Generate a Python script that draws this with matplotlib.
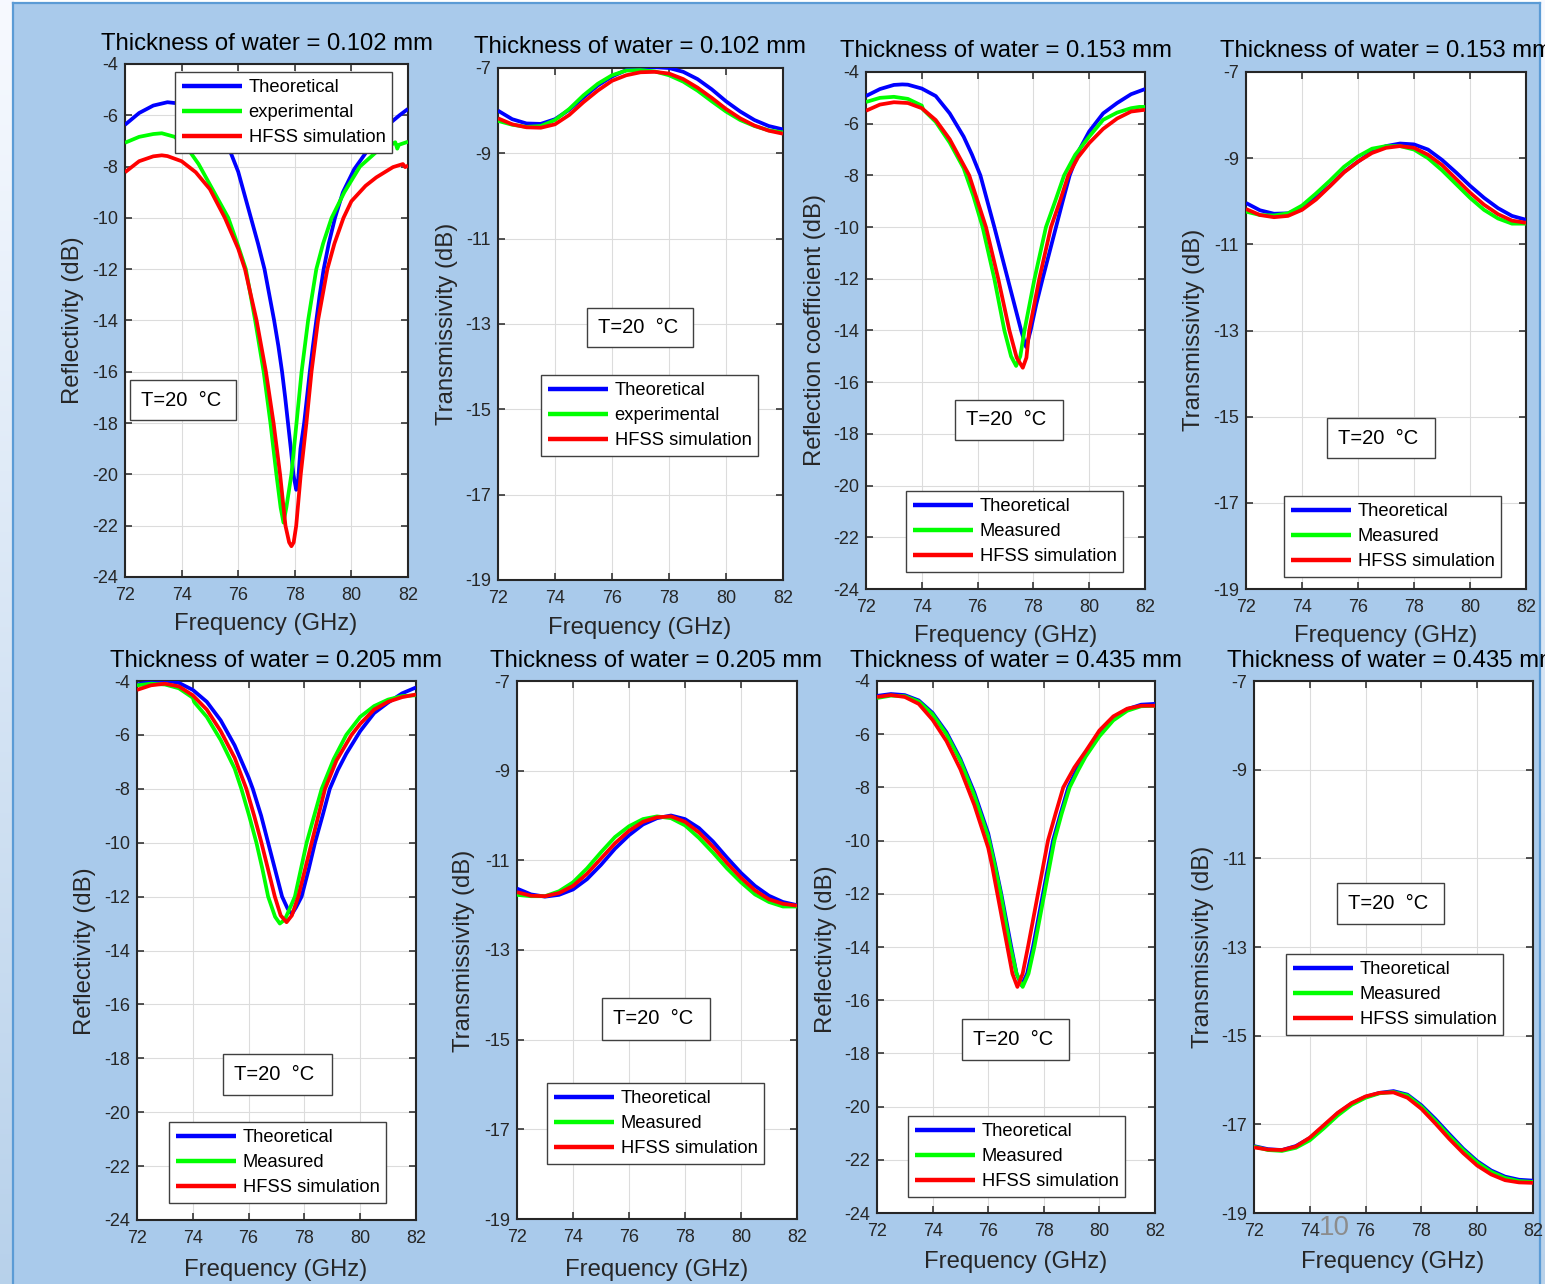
import matplotlib
matplotlib.use('Agg')
import matplotlib.pyplot as plt
from matplotlib.patches import Rectangle
import numpy as np

W, H = 1545, 1284
plt.rcParams['font.family'] = ['Liberation Sans', 'DejaVu Sans']
plt.rcParams['axes.unicode_minus'] = False

# ---------------- data ----------------
LABELS_EXP = ['Theoretical', 'experimental', 'HFSS simulation']
LABELS_MEAS = ['Theoretical', 'Measured', 'HFSS simulation']
TITLES = ['Thickness of water = 0.102 mm', 'Thickness of water = 0.102 mm',
          'Thickness of water = 0.153 mm', 'Thickness of water = 0.153 mm',
          'Thickness of water = 0.205 mm', 'Thickness of water = 0.205 mm',
          'Thickness of water = 0.435 mm', 'Thickness of water = 0.435 mm']
YLABELS = ['Reflectivity (dB)', 'Transmissivity (dB)',
           'Reflection coefficient (dB)', 'Transmissivity (dB)',
           'Reflectivity (dB)', 'Transmissivity (dB)',
           'Reflectivity (dB)', 'Transmissivity (dB)']
XTICKS = [72, 74, 76, 78, 80, 82]
YTICKS_R = [-4, -6, -8, -10, -12, -14, -16, -18, -20, -22, -24]
YTICKS_T = [-7, -9, -11, -13, -15, -17, -19]

# reflection, 0.102 mm
r102_theo_f = [72, 72.5, 73, 73.5, 74, 74.5, 75, 75.5, 75.75, 76.0, 76.2, 76.45, 76.7, 76.93, 77.1, 77.27, 77.42,
               77.55, 77.66, 77.76, 77.86, 77.95, 78.05, 78.1, 78.2, 78.33, 78.43, 78.53, 78.64, 78.76, 78.88,
               79.02, 79.2, 79.42, 79.7, 80.1, 80.55, 81.0, 81.34, 81.7, 82]
r102_theo_db = [-6.37, -5.91, -5.62, -5.49, -5.55, -5.8, -6.3, -7.0, -7.5, -8.2, -9.0, -10.0, -11.0, -12, -13, -14,
                -15, -16, -17, -18, -19, -20, -20.6, -20.5, -19, -18, -17, -16, -15, -14, -13,
                -12, -11, -10, -9.0, -8.1, -7.4, -6.8, -6.33, -6.0, -5.75]
r102_meas_f = [72, 72.5, 73, 73.3, 73.76, 74.3, 74.6, 75.0, 75.3, 75.65, 75.97, 76.27, 76.6, 76.9, 77.14, 77.35,
               77.5, 77.6, 77.7, 77.88, 78.06, 78.24, 78.47, 78.76, 79.0, 79.3, 79.75, 80.3, 80.9, 81.34, 81.55,
               81.62, 81.68, 82]
r102_meas_db = [-7.07, -6.84, -6.73, -6.7, -6.84, -7.43, -7.9, -8.7, -9.3, -10, -11, -12, -14, -16, -18, -20,
                -21.3, -21.88, -21.3, -20, -18, -16, -14, -12, -11, -10, -9.0, -8, -7.41, -7.2, -7.05,
                -7.3, -7.15, -7.03]
r102_hfss_f = [72, 72.5, 73, 73.3, 73.5, 74, 74.5, 75, 75.53, 76.0, 76.24, 76.65, 76.98, 77.25, 77.48, 77.67, 77.8,
               77.88, 77.96, 78.05, 78.21, 78.41, 78.59, 78.82, 79.15, 79.4, 79.72, 80.0, 80.5, 80.88, 81.47,
               81.82, 81.9, 82]
r102_hfss_db = [-8.22, -7.79, -7.6, -7.56, -7.59, -7.79, -8.22, -8.88, -10, -11.2, -12, -14, -16, -18, -20, -22,
                -22.65, -22.8, -22.65, -22, -20, -18, -16, -14, -12, -11, -10, -9.35, -8.75, -8.42, -8.02,
                -7.9, -8.02, -7.96]

# reflection, 0.153 mm
r153_theo_f = [72, 72.5, 73, 73.3, 73.5, 74, 74.5, 75, 75.5, 75.8, 76.1, 76.35, 76.6, 76.84, 77.08, 77.32, 77.56,
               77.74, 77.9, 78.1, 78.33, 78.57, 78.81, 79.05, 79.3, 79.65, 80.0, 80.5, 81, 81.5, 82]
r153_theo_db = [-4.93, -4.66, -4.5, -4.48, -4.49, -4.64, -4.93, -5.6, -6.5, -7.2, -8.0, -9.0, -10, -11, -12, -13,
                -14, -14.64, -14, -13, -12, -11, -10, -9, -8, -7, -6.3, -5.6, -5.2, -4.86, -4.66]
r153_meas_f = [72, 72.5, 73, 73.5, 74, 74.05, 74.5, 75, 75.5, 75.85, 76.18, 76.6, 76.96, 77.2, 77.38, 77.53, 77.68,
               78.04, 78.45, 78.78, 79.1, 79.5, 80.0, 80.5, 81, 81.5, 81.8, 82]
r153_meas_db = [-5.16, -5.0, -4.96, -5.04, -5.3, -5.45, -5.93, -6.73, -7.72, -8.8, -10, -12, -14, -15.0, -15.37,
                -15.0, -14, -12, -10, -9, -8, -7.2, -6.5, -5.85, -5.57, -5.4, -5.35, -5.35]
r153_hfss_f = [72, 72.5, 73, 73.5, 74, 74.5, 75, 75.5, 75.7, 76.0, 76.3, 76.74, 77.14, 77.4, 77.62, 77.75, 77.85,
               78.21, 78.63, 78.95, 79.25, 79.6, 80.0, 80.5, 81, 81.5, 82]
r153_hfss_db = [-5.5, -5.26, -5.17, -5.2, -5.4, -5.86, -6.6, -7.6, -8, -9.0, -10, -12, -14, -15.05, -15.44, -15.05,
                -14, -12, -10, -9, -8, -7.3, -6.75, -6.2, -5.8, -5.53, -5.46]

# reflection, 0.205 mm
r205_theo_f = [72, 72.5, 73, 73.5, 74, 74.5, 75, 75.5, 76, 76.15, 76.45, 76.7, 76.95, 77.2, 77.4, 77.55, 77.7, 77.9,
               78.15, 78.38, 78.65, 78.91, 79.2, 79.5, 80, 80.5, 81, 81.5, 82]
r205_theo_db = [-4.13, -4.03, -3.98, -4.07, -4.33, -4.77, -5.46, -6.39, -7.58, -8, -9, -10, -11, -12, -12.45,
                -12.65, -12.4, -12, -11, -10, -9, -8, -7.3, -6.7, -5.86, -5.19, -4.8, -4.46, -4.24]
r205_meas_f = [72, 72.5, 73, 73.5, 74, 74.05, 74.5, 75, 75.5, 75.74, 76.02, 76.28, 76.5, 76.7, 76.95, 77.12, 77.3,
               77.45, 77.66, 77.87, 78.08, 78.35, 78.62, 79.05, 79.5, 80, 80.5, 81, 81.5, 82]
r205_meas_db = [-4.16, -4.1, -4.13, -4.27, -4.62, -4.78, -5.33, -6.19, -7.25, -8, -9, -10, -11, -12, -12.75, -13.0,
                -12.85, -12.5, -12, -11, -10, -9, -8, -6.9, -6, -5.33, -4.93, -4.69, -4.56, -4.53]
r205_hfss_f = [72, 72.5, 73, 73.5, 74, 74.5, 75, 75.5, 75.92, 76.2, 76.46, 76.7, 76.94, 77.15, 77.36, 77.55, 77.78,
               78.02, 78.26, 78.5, 78.74, 79.15, 79.69, 80, 80.5, 81, 81.5, 82]
r205_hfss_db = [-4.33, -4.16, -4.1, -4.2, -4.53, -5.06, -5.86, -6.85, -8, -9, -10, -11, -12, -12.7, -12.95, -12.7,
                -12, -11, -10, -9, -8, -6.95, -6, -5.59, -5.06, -4.77, -4.6, -4.5]

# reflection, 0.435 mm
r435_theo_f = [72, 72.5, 73, 73.5, 74, 74.5, 75, 75.5, 76, 76.25, 76.47, 76.65, 76.83, 77.02, 77.2, 77.4, 77.61,
               77.79, 77.97, 78.15, 78.33, 78.6, 78.88, 79.2, 79.5, 80, 80.5, 81, 81.5, 82]
r435_theo_db = [-4.56, -4.49, -4.53, -4.73, -5.2, -5.93, -6.93, -8.19, -9.73, -10.9, -12, -13, -14, -15, -15.44, -15,
                -14, -13, -12, -11, -10, -9, -8, -7.3, -6.75, -6.0, -5.4, -5.06, -4.89, -4.86]
r435_meas_f = [72, 72.5, 73, 73.5, 74, 74.5, 75, 75.5, 76, 76.24, 76.45, 76.62, 76.8, 77.02, 77.24, 77.45, 77.66,
               77.84, 78.02, 78.2, 78.38, 78.64, 78.93, 79.24, 79.5, 80, 80.5, 81, 81.5, 82]
r435_meas_db = [-4.64, -4.55, -4.57, -4.77, -5.25, -6.0, -7.0, -8.3, -9.85, -10.95, -12, -13, -14, -15, -15.5, -15,
                -14, -13, -12, -11, -10, -9, -8, -7.35, -6.85, -6.08, -5.48, -5.12, -4.95, -4.93]
r435_hfss_f = [72, 72.5, 73, 73.5, 74, 74.5, 75, 75.5, 76, 76.15, 76.33, 76.51, 76.69, 76.87, 77.05, 77.24, 77.43,
               77.61, 77.79, 77.97, 78.15, 78.42, 78.7, 79.1, 79.5, 80, 80.5, 81, 81.5, 82]
r435_hfss_db = [-4.6, -4.53, -4.6, -4.86, -5.46, -6.26, -7.32, -8.66, -10.27, -11.0, -12, -13, -14, -15, -15.5, -15,
                -14, -13, -12, -11, -10, -9, -8, -7.25, -6.65, -5.86, -5.33, -5.04, -4.93, -4.93]

# transmission (shared frequency grid)
t_freq = [72.0, 72.5, 73.0, 73.5, 74.0, 74.5, 75.0, 75.5, 76.0, 76.5, 77.0, 77.5, 78.0, 78.5, 79.0, 79.5, 80.0,
          80.5, 81.0, 81.5, 82.0]
t102_theo = [-8.0, -8.2, -8.3, -8.31, -8.2, -7.98, -7.69, -7.41, -7.2, -7.05, -7.0, -6.98, -7.0, -7.09, -7.26, -7.5,
             -7.78, -8.02, -8.22, -8.36, -8.44]
t102_meas = [-8.24, -8.33, -8.38, -8.36, -8.22, -7.96, -7.64, -7.37, -7.17, -7.06, -7.05, -7.08, -7.17, -7.32, -7.53,
             -7.78, -8.02, -8.22, -8.36, -8.46, -8.51]
t102_hfss = [-8.18, -8.32, -8.39, -8.4, -8.32, -8.1, -7.8, -7.53, -7.3, -7.17, -7.1, -7.09, -7.13, -7.26, -7.46, -7.7,
             -7.96, -8.18, -8.35, -8.47, -8.54]
t153_theo = [-10.04, -10.21, -10.29, -10.28, -10.16, -9.92, -9.64, -9.32, -9.08, -8.85, -8.72, -8.66, -8.68, -8.8,
             -9.04, -9.33, -9.64, -9.92, -10.16, -10.34, -10.43]
t153_meas = [-10.24, -10.32, -10.33, -10.28, -10.1, -9.82, -9.52, -9.2, -8.96, -8.78, -8.72, -8.72, -8.8, -9.0, -9.28,
             -9.6, -9.92, -10.2, -10.4, -10.52, -10.52]
t153_hfss = [-10.18, -10.32, -10.37, -10.34, -10.2, -9.96, -9.65, -9.33, -9.08, -8.88, -8.76, -8.72, -8.76, -8.92,
             -9.16, -9.48, -9.8, -10.08, -10.3, -10.45, -10.5]
t205_theo = [-11.63, -11.76, -11.81, -11.77, -11.65, -11.42, -11.1, -10.74, -10.44, -10.2, -10.06, -10.0, -10.08,
             -10.28, -10.58, -10.94, -11.28, -11.57, -11.79, -11.93, -12.0]
t205_meas = [-11.77, -11.8, -11.8, -11.69, -11.49, -11.18, -10.82, -10.48, -10.24, -10.08, -10.02, -10.06, -10.22,
             -10.5, -10.83, -11.18, -11.49, -11.76, -11.93, -12.03, -12.03]
t205_hfss = [-11.71, -11.79, -11.8, -11.73, -11.57, -11.3, -10.96, -10.62, -10.34, -10.14, -10.04, -10.02, -10.14,
             -10.38, -10.7, -11.06, -11.39, -11.67, -11.87, -11.97, -12.01]
t435_theo = [-17.49, -17.56, -17.58, -17.49, -17.31, -17.04, -16.75, -16.53, -16.38, -16.29, -16.25, -16.33, -16.57,
             -16.88, -17.22, -17.55, -17.83, -18.04, -18.18, -18.25, -18.27]
t435_meas = [-17.5, -17.58, -17.6, -17.53, -17.36, -17.09, -16.8, -16.56, -16.4, -16.3, -16.27, -16.35, -16.6, -16.92,
             -17.26, -17.58, -17.86, -18.07, -18.21, -18.28, -18.3]
t435_hfss = [-17.52, -17.57, -17.58, -17.5, -17.3, -17.02, -16.74, -16.52, -16.37, -16.29, -16.28, -16.4, -16.65,
             -16.98, -17.33, -17.65, -17.93, -18.13, -18.26, -18.31, -18.32]

# ---------------- layout (pixel positions) ----------------
AX_BOX = [(125, 64, 408, 577), (498, 68, 783, 580), (866, 72, 1145, 589), (1246, 72, 1526, 589),
          (137, 681, 416, 1220), (517, 681, 797, 1219), (877, 681, 1155, 1213), (1254, 681, 1533, 1213)]
TITLE_XY = [(267, 44), (640, 47), (1006, 51), (1386, 51), (276.5, 661), (656, 661), (1016, 661), (1393, 661)]
YLAB_XY = [(73, 320), (447, 324), (815, 330), (1194, 330), (85, 951), (464, 951), (826, 949), (1203, 947)]
XLAB_XY = [(266, 624), (640, 628), (1006, 636), (1386, 636), (276, 1270), (657, 1270), (1016, 1262), (1393, 1262)]
LEG_XY = [(175, 72), (541, 375), (906, 491), (1284, 496), (169, 1122), (547, 1083), (908, 1116), (1286, 954)]
TBOX = [(130, 380, 236, 420), (587, 308, 693, 347), (955, 400, 1063, 440), (1327, 418, 1435, 458),
        (223, 1054, 332, 1095), (602, 998, 710, 1040), (962, 1019, 1069, 1060), (1337, 883, 1444, 924)]

COLORS = ['#0000FF', '#00FF00', '#FF0000']
BG = '#A9CAEB'
TXT = '#262626'


def fx(x):
    return x / W


def fy(y):
    return 1 - y / H


fig = plt.figure(figsize=(W / 100, H / 100), dpi=100)
fig.patch.set_facecolor('white')

# side strips (photo edge) and slide background
for (x0, x1) in [(0, 13), (1541, 1545)]:
    sa = fig.add_axes([fx(x0), 0, (x1 - x0) / W, 1])
    grad = np.linspace(0, 1, 256).reshape(-1, 1, 1)
    top = np.array([0.97, 0.98, 1.0]).reshape(1, 1, 3)
    bot = np.array([0.72, 0.82, 0.92]).reshape(1, 1, 3)
    sa.imshow(top * (1 - grad) + bot * grad, aspect='auto', extent=[0, 1, 0, 1])
    sa.set_axis_off()

bg = fig.add_axes([fx(13), 0, (1540 - 13) / W, 1 - 3 / H])
bg.set_facecolor(BG)
bg.set_xticks([])
bg.set_yticks([])
for s in ['top', 'left', 'right']:
    bg.spines[s].set_color('#5B9BD5')
    bg.spines[s].set_linewidth(1.6)
bg.spines['bottom'].set_visible(False)

reflection = [
    [(r102_theo_f, r102_theo_db), (r102_meas_f, r102_meas_db), (r102_hfss_f, r102_hfss_db)],
    [(r153_theo_f, r153_theo_db), (r153_meas_f, r153_meas_db), (r153_hfss_f, r153_hfss_db)],
    [(r205_theo_f, r205_theo_db), (r205_meas_f, r205_meas_db), (r205_hfss_f, r205_hfss_db)],
    [(r435_theo_f, r435_theo_db), (r435_meas_f, r435_meas_db), (r435_hfss_f, r435_hfss_db)],
]
transmission = [
    [(t_freq, t102_theo), (t_freq, t102_meas), (t_freq, t102_hfss)],
    [(t_freq, t153_theo), (t_freq, t153_meas), (t_freq, t153_hfss)],
    [(t_freq, t205_theo), (t_freq, t205_meas), (t_freq, t205_hfss)],
    [(t_freq, t435_theo), (t_freq, t435_meas), (t_freq, t435_hfss)],
]

for i in range(8):
    l, t, r, b = AX_BOX[i]
    ax = fig.add_axes([fx(l), fy(b), (r - l) / W, (b - t) / H])
    ax.set_facecolor('white')
    is_r = (i % 2 == 0)
    series = reflection[i // 2] if is_r else transmission[i // 2]
    labels = LABELS_EXP if i < 2 else LABELS_MEAS
    handles = []
    for (fr, db), c, lab in zip(series, COLORS, labels):
        ln, = ax.plot(fr, db, color=c, lw=2.7, label=lab, solid_joinstyle='round',
                      solid_capstyle='butt', zorder=3)
        handles.append(ln)
    ax.set_xlim(72, 82)
    if is_r:
        ax.set_ylim(-24, -4)
        ax.set_yticks(YTICKS_R)
    else:
        ax.set_ylim(-19, -7)
        ax.set_yticks(YTICKS_T)
    ax.set_xticks(XTICKS)
    ax.grid(True, color='#DCDCDC', lw=0.8, zorder=0)
    ax.set_axisbelow(True)
    ax.tick_params(direction='in', length=5, width=1.1, top=True, right=True, colors=TXT,
                   labelsize=13, pad=5)
    ax.tick_params(axis='x', pad=7)
    for s in ax.spines.values():
        s.set_color(TXT)
        s.set_linewidth(1.5)

    lx, ly = LEG_XY[i]
    leg = ax.legend(handles=handles, loc='upper left', bbox_to_anchor=(fx(lx), fy(ly)),
                    bbox_transform=fig.transFigure, borderaxespad=0, fontsize=13.2,
                    handlelength=3.3, handletextpad=0.33, borderpad=0.38, labelspacing=0.44,
                    fancybox=False, framealpha=1, edgecolor='#404040')
    leg.get_frame().set_linewidth(1.0)
    for lh in leg.get_lines():
        lh.set_linewidth(3.2)
    leg.set_zorder(6)

    tl, tt, tr, tb = TBOX[i]
    rect = Rectangle((fx(tl), fy(tb)), (tr - tl) / W, (tb - tt) / H, transform=fig.transFigure,
                     facecolor='white', edgecolor='#404040', lw=1.0, zorder=5)
    fig.add_artist(rect)
    fig.text(fx(tl + 11), fy((tt + tb) / 2), 'T=20  \u00b0C', ha='left', va='center',
             fontsize=14.5, color='black', zorder=6)

    tx, ty = TITLE_XY[i]
    fig.text(fx(tx), fy(ty), TITLES[i], ha='center', va='center', fontsize=17.2, color='black')
    yx, yy = YLAB_XY[i]
    fig.text(fx(yx), fy(yy), YLABELS[i], ha='center', va='center', rotation=90,
             fontsize=17.2, color=TXT)
    xx, xy = XLAB_XY[i]
    fig.text(fx(xx), fy(xy), 'Frequency (GHz)', ha='center', va='center', fontsize=17.2, color=TXT)

# slide number
fig.text(fx(1334), fy(1228), '10', ha='center', va='center', fontsize=20, color='#8C8C8C', zorder=10)

fig.savefig('out.png', dpi=100, facecolor=fig.get_facecolor())
